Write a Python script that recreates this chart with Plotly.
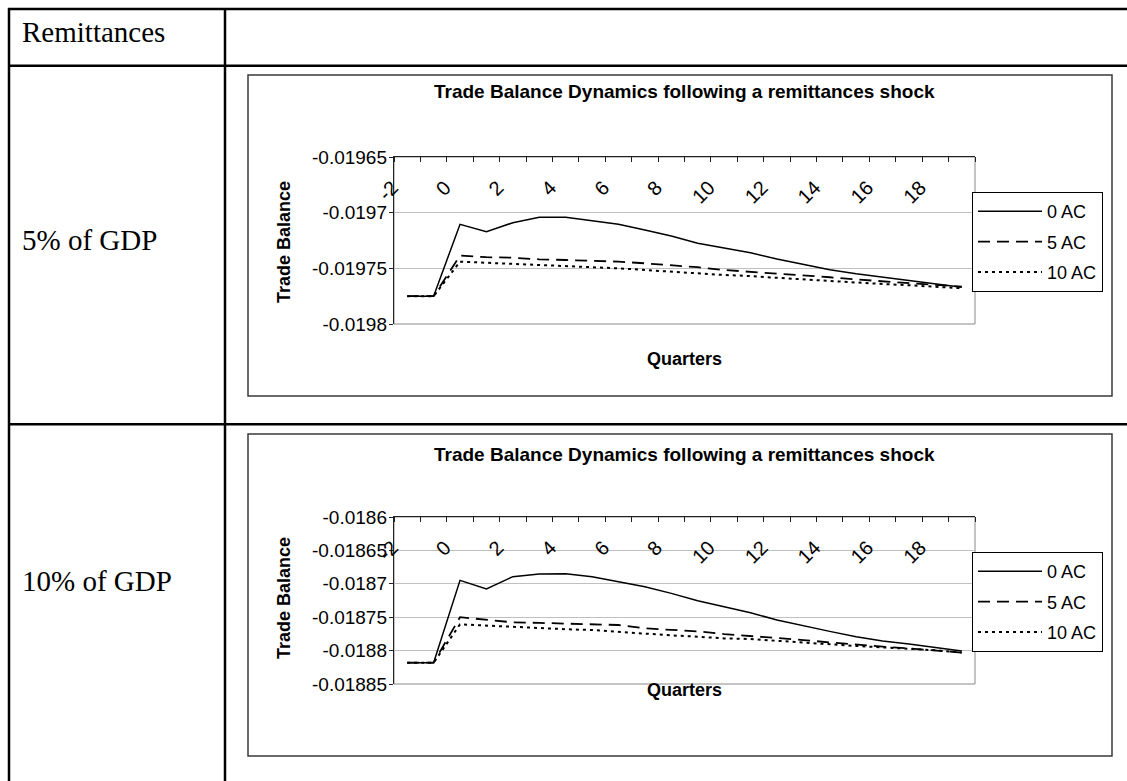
import plotly.graph_objects as go

W, H = 1127, 781

# ---------------- data ----------------
quarters = list(range(-2, 20))
tick_quarters = list(range(-2, 20, 2))
tick_quarter_text = [str(q) for q in tick_quarters]
series_names = ["0 AC", "5 AC", "10 AC"]

# Panel 1: remittances = 5% of GDP
tb5_0ac = [-0.019775, -0.019775, -0.0197105, -0.0197171, -0.019709, -0.0197042, -0.0197042,
           -0.0197072, -0.0197105, -0.0197156, -0.019721, -0.0197275, -0.019732, -0.019736,
           -0.0197417, -0.0197465, -0.0197513, -0.0197549, -0.0197579, -0.0197609, -0.0197639,
           -0.0197669]
tb5_5ac = [-0.019775, -0.019775, -0.0197386, -0.01974, -0.0197405, -0.0197419, -0.0197425,
           -0.0197431, -0.019744, -0.0197455, -0.019747, -0.019749, -0.0197515, -0.019753,
           -0.0197545, -0.0197563, -0.019758, -0.01976, -0.0197617, -0.0197635, -0.019765,
           -0.0197665]
tb5_10ac = [-0.019775, -0.019775, -0.019744, -0.019745, -0.019746, -0.019747, -0.0197478,
            -0.0197485, -0.01975, -0.0197515, -0.0197527, -0.0197545, -0.019756, -0.0197569,
            -0.0197585, -0.01976, -0.0197615, -0.019763, -0.0197641, -0.0197652, -0.0197665,
            -0.0197679]
y1_ticks = [-0.01965, -0.0197, -0.01975, -0.0198]
y1_text = ["-0.01965", "-0.0197", "-0.01975", "-0.0198"]

# Panel 2: remittances = 10% of GDP
tb10_0ac = [-0.0188181, -0.0188181, -0.0186948, -0.0187078, -0.0186893, -0.0186853, -0.0186849,
            -0.0186893, -0.0186968, -0.0187043, -0.0187143, -0.0187253, -0.0187342, -0.0187433,
            -0.0187542, -0.0187632, -0.0187712, -0.0187792, -0.0187856, -0.0187901, -0.0187951,
            -0.0188006]
tb10_5ac = [-0.0188181, -0.0188181, -0.01875, -0.0187542, -0.0187577, -0.0187585, -0.0187592,
            -0.0187603, -0.0187617, -0.0187667, -0.0187692, -0.0187712, -0.0187752, -0.0187782,
            -0.0187802, -0.0187842, -0.0187877, -0.0187912, -0.018794, -0.0187967, -0.0187995,
            -0.0188031]
tb10_10ac = [-0.0188181, -0.0188181, -0.0187607, -0.0187627, -0.0187647, -0.0187667, -0.018768,
             -0.0187692, -0.0187722, -0.0187752, -0.0187772, -0.0187792, -0.0187817, -0.0187827,
             -0.0187855, -0.0187882, -0.0187907, -0.0187931, -0.0187952, -0.0187972, -0.0187995,
             -0.018803]
y2_ticks = [-0.0186, -0.01865, -0.0187, -0.01875, -0.0188, -0.01885]
y2_text = ["-0.0186", "-0.01865", "-0.0187", "-0.01875", "-0.0188", "-0.01885"]

row_labels = ["5% of GDP", "10% of GDP"]
header_label = "Remittances"
chart_title = "Trade Balance Dynamics following a remittances shock"
x_title = "Quarters"
y_title = "Trade Balance"

# ---------------- helpers ----------------
def px(x):
    return x / W

def py(y):
    return 1 - y / H

SANS = "Liberation Sans, Arial, sans-serif"
SERIF = "Liberation Serif, Times New Roman, serif"
dash_styles = ["solid", "12px,7px", "3px,4px"]
widths = [1.5, 1.8, 2.0]

fig = go.Figure()

panels = [
    dict(data=[tb5_0ac, tb5_5ac, tb5_10ac], xa="x", ya="y", xl="x3", legend="legend"),
    dict(data=[tb10_0ac, tb10_5ac, tb10_10ac], xa="x2", ya="y2", xl="x4", legend="legend2"),
]
for p in panels:
    for name, vals, dsh, wd in zip(series_names, p["data"], dash_styles, widths):
        fig.add_trace(go.Scatter(
            x=quarters, y=vals, name=name, mode="lines",
            line=dict(color="black", width=wd, dash=dsh),
            xaxis=p["xa"], yaxis=p["ya"], legend=p["legend"],
            legendgroup=p["legend"] + name, hoverinfo="skip",
        ))
    # invisible carrier so the label-only overlay axis gets drawn
    fig.add_trace(go.Scatter(
        x=quarters, y=p["data"][0], mode="lines", line=dict(width=0, color="rgba(0,0,0,0)"),
        opacity=0, xaxis=p["xl"], yaxis=p["ya"], showlegend=False, hoverinfo="skip",
    ))

# plot-area geometry (pixels)
X0, X1 = 394, 975
P1_TOP, P1_BOT = 157, 324
P2_TOP, P2_BOT = 517, 684
XRANGE = [-2.5, 19.5]

def xaxis_cfg(anchor, dom):
    return dict(
        domain=dom, anchor=anchor, range=XRANGE, side="top",
        showline=True, linecolor="#222", linewidth=1.2,
        showticklabels=False, ticks="",
        minor=dict(ticks="inside", tick0=-2.5, dtick=1, ticklen=5,
                   tickcolor="#222", tickwidth=1, showgrid=False),
        showgrid=False, zeroline=False, fixedrange=True, automargin=False,
    )

def xlabel_cfg(over, dom, top_px):
    # label-only axis drawn just below the top axis line
    return dict(
        domain=dom, overlaying=over, anchor="free", position=py(top_px),
        side="bottom", range=XRANGE, showline=False, showgrid=False, zeroline=False,
        tickvals=tick_quarters, ticktext=tick_quarter_text, tickangle=-45,
        ticks="outside", ticklen=10, tickcolor="rgba(0,0,0,0)",
        ticklabelshift=-15,
        tickfont=dict(family=SANS, size=20, color="black"), fixedrange=True,
        automargin=False,
    )

def yaxis_cfg(anchor, dom, rng, tv, tt):
    return dict(
        domain=dom, anchor=anchor, range=rng,
        tickvals=tv, ticktext=tt, ticks="outside", ticklen=4,
        tickcolor="#222", tickfont=dict(family=SANS, size=19, color="black"),
        ticklabelstandoff=-2,
        showgrid=True, gridcolor="#c0c0c0", gridwidth=1,
        showline=True, linecolor="#222", linewidth=1.2,
        zeroline=False, fixedrange=True, automargin=False,
    )

xdom = [px(X0), px(X1)]
fig.update_layout(
    width=W, height=H, autosize=False,
    margin=dict(l=0, r=0, t=0, b=0, pad=0, autoexpand=False),
    paper_bgcolor="white", plot_bgcolor="white",
    xaxis=xaxis_cfg("y", xdom),
    yaxis=yaxis_cfg("x", [py(P1_BOT), py(P1_TOP)], [-0.0198, -0.01965], y1_ticks, y1_text),
    xaxis2=xaxis_cfg("y2", xdom),
    yaxis2=yaxis_cfg("x2", [py(P2_BOT), py(P2_TOP)], [-0.01885, -0.0186], y2_ticks, y2_text),
    xaxis3=xlabel_cfg("x", xdom, P1_TOP),
    xaxis4=xlabel_cfg("x2", xdom, P2_TOP),
    showlegend=True,
)

leg_common = dict(
    xanchor="left", yanchor="top", bgcolor="white",
    bordercolor="black", borderwidth=1,
    font=dict(family=SANS, size=18, color="black"),
    tracegroupgap=4, traceorder="grouped", itemwidth=64,
)
fig.update_layout(
    legend=dict(x=px(972), y=py(192), **leg_common),
    legend2=dict(x=px(972), y=py(552), **leg_common),
)

shapes = []
# table lines
TL = dict(color="black", width=2.5)
for yy in [9, 65.7, 424.3]:
    shapes.append(dict(type="line", xref="paper", yref="paper",
                       x0=px(8), x1=px(W), y0=py(yy), y1=py(yy), line=TL))
for xx in [9, 225]:
    shapes.append(dict(type="line", xref="paper", yref="paper",
                       x0=px(xx), x1=px(xx), y0=py(8), y1=py(H), line=TL))
# chart frames
for (t, b) in [(75, 396), (434, 756)]:
    shapes.append(dict(type="rect", xref="paper", yref="paper",
                       x0=px(248), x1=px(1112), y0=py(b), y1=py(t),
                       line=dict(color="#3a3a3a", width=1.5), layer="below"))
# plot-area borders (gray)
for xa, ya in [("x", "y"), ("x2", "y2")]:
    shapes.append(dict(type="rect", xref=xa + " domain", yref=ya + " domain",
                       x0=0, x1=1, y0=0, y1=1,
                       line=dict(color="#8a8a8a", width=1), layer="below"))
fig.update_layout(shapes=shapes)

ann = []
ann.append(dict(text=header_label, xref="paper", yref="paper", x=px(20), y=py(32),
                xanchor="left", yanchor="middle", showarrow=False,
                font=dict(family=SERIF, size=29, color="black")))
for lbl, yy in zip(row_labels, [240, 581]):
    ann.append(dict(text=lbl, xref="paper", yref="paper", x=px(20), y=py(yy),
                    xanchor="left", yanchor="middle", showarrow=False,
                    font=dict(family=SERIF, size=29, color="black")))
for ty, qy, mid in [(91, 359, 242), (454, 690, 598)]:
    ann.append(dict(text="<b>%s</b>" % chart_title, xref="paper", yref="paper",
                    x=px(684), y=py(ty), xanchor="center", yanchor="middle",
                    showarrow=False, font=dict(family=SANS, size=19, color="black")))
    ann.append(dict(text="<b>%s</b>" % x_title, xref="paper", yref="paper",
                    x=px(684), y=py(qy), xanchor="center", yanchor="middle",
                    showarrow=False, font=dict(family=SANS, size=18, color="black")))
    ann.append(dict(text="<b>%s</b>" % y_title, xref="paper", yref="paper",
                    x=px(284), y=py(mid), xanchor="center", yanchor="middle",
                    textangle=-90, showarrow=False,
                    font=dict(family=SANS, size=18, color="black")))
fig.update_layout(annotations=ann)

fig.write_html(
    "out.html",
    config={"displayModeBar": False, "staticPlot": True},
    post_script=(
        "document.documentElement.style.margin='0';"
        "document.body.style.margin='0';document.body.style.padding='0';"
        "document.body.style.overflow='hidden';"
    ),
)
